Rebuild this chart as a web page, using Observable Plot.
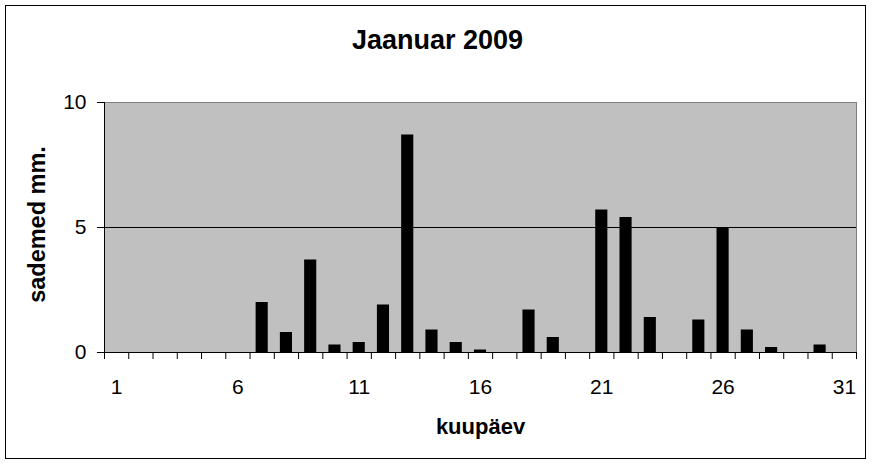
<!DOCTYPE html>
<html>
<head>
<meta charset="utf-8">
<script src="https://cdn.jsdelivr.net/npm/d3@7"></script>
<script src="https://cdn.jsdelivr.net/npm/@observablehq/plot@0.6"></script>
<style>
  html, body { margin: 0; padding: 0; background: #fff; }
  #wrap { position: relative; width: 873px; height: 465px; }
  #border { position: absolute; left: 5px; top: 5px; width: 861px; height: 454px; border: 1px solid #000; box-sizing: border-box; }
  #chart { position: absolute; left: 0; top: 0; }
  svg { font-family: "Liberation Sans", Arial, sans-serif; }
</style>
</head>
<body>
<div id="wrap"><div id="border"></div><div id="chart"></div></div>
<script>
const title = "Jaanuar 2009";
const xLabel = "kuupäev";
const yLabel = "sademed mm.";
const days = d3.range(1, 32);
const precipitation = [0, 0, 0, 0, 0, 0, 2.0, 0.8, 3.7, 0.3, 0.4, 1.9, 8.7, 0.9, 0.4, 0.1,
                       0, 1.7, 0.6, 0, 5.7, 5.4, 1.4, 0, 1.3, 5.0, 0.9, 0.2, 0, 0.3, 0];
const xTickLabels = [1, 6, 11, 16, 21, 26, 31];
const yTicks = [0, 5, 10];

const data = days.map((d, i) => ({day: d, value: precipitation[i]}));
const slotEdges = d3.range(0.5, 32, 1);

const chart = Plot.plot({
  width: 873,
  height: 465,
  marginLeft: 104,
  marginRight: 17,
  marginTop: 102,
  marginBottom: 113,
  style: {fontFamily: "Liberation Sans, Arial, sans-serif", background: "transparent", color: "#000"},
  x: {type: "linear", domain: [0.5, 31.5]},
  y: {domain: [0, 10]},
  marks: [
    Plot.frame({fill: "#c0c0c0", stroke: "#808080"}),
    Plot.ruleY([5], {stroke: "#000", strokeWidth: 1}),
    Plot.rectY(data, {x1: d => d.day - 0.25, x2: d => d.day + 0.25, y: "value", fill: "#000"}),
    Plot.ruleY([0], {stroke: "#000"}),
    Plot.ruleX([0.5], {stroke: "#000"}),
    Plot.axisX({ticks: slotEdges, tickSize: 7, tickFormat: () => "", label: null, stroke: "#000"}),
    Plot.axisX({ticks: xTickLabels, tickSize: 0, tickPadding: 27, fontSize: 21, label: null, fill: "#000"}),
    Plot.axisY({ticks: yTicks, tickSize: 7, tickPadding: 11, fontSize: 21, label: null, fill: "#000", stroke: "#000"}),
    Plot.text([title], {frameAnchor: "top", lineAnchor: "middle", textAnchor: "middle", dx: -43, dy: -62, fontSize: 27, fontWeight: "bold", fill: "#000"}),
    Plot.text([xLabel], {frameAnchor: "bottom", lineAnchor: "middle", textAnchor: "middle", dy: 74, fontSize: 22, fontWeight: "bold", fill: "#000"}),
    Plot.text([yLabel], {frameAnchor: "left", lineAnchor: "middle", textAnchor: "middle", rotate: -90, dx: -67, dy: -3, fontSize: 23.5, fontWeight: "bold", fill: "#000"})
  ]
});
document.getElementById("chart").appendChild(chart);
</script>
</body>
</html>
